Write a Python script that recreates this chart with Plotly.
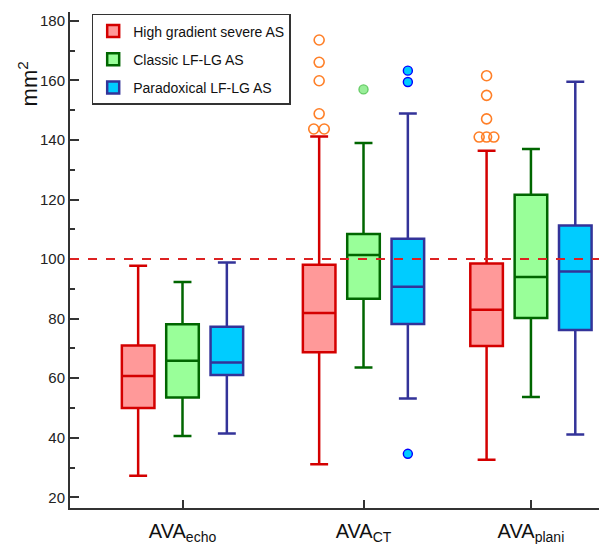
import plotly.graph_objects as go

# ---- data (mm^2) ----
groups = ["AVA<sub>echo</sub>", "AVA<sub>CT</sub>", "AVA<sub>plani</sub>"]
series = ["High gradient severe AS", "Classic LF-LG AS", "Paradoxical LF-LG AS"]

# per series: values for [echo, CT, plani]
hg_low = [27.2, 31.1, 32.6]
hg_q1 = [50.0, 68.7, 70.8]
hg_med = [60.7, 81.9, 83.0]
hg_q3 = [71.0, 98.1, 98.5]
hg_high = [97.8, 141.2, 136.4]

cl_low = [40.6, 63.6, 53.7]
cl_q1 = [53.5, 86.7, 80.2]
cl_med = [65.9, 101.4, 94.0]
cl_q3 = [78.1, 108.4, 121.6]
cl_high = [92.3, 139.0, 137.0]

pa_low = [41.4, 53.2, 41.1]
pa_q1 = [61.1, 78.2, 76.2]
pa_med = [65.3, 90.7, 95.8]
pa_q3 = [77.3, 106.8, 111.3]
pa_high = [98.9, 148.9, 159.6]

# outliers: (group index, value)
hg_out_group = [1, 1, 1, 1, 1, 1, 2, 2, 2, 2, 2, 2]
hg_out_vals = [173.6, 166.1, 159.9, 148.8, 143.7, 143.7, 161.6, 155.0, 147.1, 141.0, 141.0, 141.0]
cl_out_group = [1]
cl_out_vals = [157.0]
pa_out_group = [1, 1, 1]
pa_out_vals = [163.3, 159.5, 34.6]

threshold = 100

# ---- layout constants ----
GROUP_POS = [1.0, 2.0, 2.925]
OFFSET = 0.245
BOX_W = 0.18
hg_jitter = [0, 0, 0, 0, -0.03, 0.028, 0, 0, 0, -0.041, 0, 0.04]
cl_jitter = [0]
pa_jitter = [0, 0, 0]

styles = [
    dict(line="#d40000", fill="#ff9999", off=-OFFSET,
         omk=dict(symbol="circle-open", size=10, color="#ff7f27", line=dict(width=1.6, color="#ff7f27"))),
    dict(line="#006600", fill="#99ff99", off=0.0,
         omk=dict(symbol="circle", size=9, color="#99ee99", line=dict(width=1.4, color="#66cc66"))),
    dict(line="#333399", fill="#00ccff", off=OFFSET,
         omk=dict(symbol="circle", size=9, color="#00ccff", line=dict(width=1.4, color="#0000ff"))),
]

stats = [
    (hg_low, hg_q1, hg_med, hg_q3, hg_high),
    (cl_low, cl_q1, cl_med, cl_q3, cl_high),
    (pa_low, pa_q1, pa_med, pa_q3, pa_high),
]
outs = [
    (hg_out_group, hg_out_vals, hg_jitter),
    (cl_out_group, cl_out_vals, cl_jitter),
    (pa_out_group, pa_out_vals, pa_jitter),
]

fig = go.Figure()
for i, name in enumerate(series):
    lo, q1, md, q3, hi = stats[i]
    st = styles[i]
    xs = [p + st["off"] for p in GROUP_POS]
    fig.add_trace(go.Box(
        name=name, x=xs, lowerfence=lo, q1=q1, median=md, q3=q3, upperfence=hi,
        width=BOX_W, whiskerwidth=0.55, fillcolor=st["fill"],
        line=dict(color=st["line"], width=2.5), boxpoints=False,
        legendgroup=name, hoverinfo="skip",
    ))
for i, name in enumerate(series):
    g, v, j = outs[i]
    st = styles[i]
    fig.add_trace(go.Scatter(
        x=[GROUP_POS[gi] + st["off"] + jj for gi, jj in zip(g, j)], y=v,
        mode="markers", marker=st["omk"], showlegend=False, legendgroup=name,
        hoverinfo="skip",
    ))

fig.add_shape(type="line", xref="paper", x0=0, x1=1, yref="y", y0=threshold, y1=threshold,
              line=dict(color="#dd2222", width=2, dash="dash"), layer="above")

fig.add_annotation(text="mm<sup>2</sup>", textangle=-90, xref="paper", yref="paper",
                   x=-0.11, y=0.905, showarrow=False,
                   font=dict(family="Liberation Sans, Arial", size=22, color="#111"))

fig.update_layout(
    width=599, height=544,
    margin=dict(l=70, r=0, t=12, b=36),
    paper_bgcolor="white", plot_bgcolor="white",
    boxmode="overlay",
    font=dict(family="Liberation Sans, Arial", size=15, color="#222"),
    showlegend=True,
    legend=dict(x=0.041, y=0.996, xanchor="left", yanchor="top",
                bgcolor="white", bordercolor="#333", borderwidth=1.5,
                font=dict(size=14, color="#111"), tracegroupgap=7,
                itemwidth=30),
    xaxis=dict(range=[0.3785, 3.301], showgrid=False, zeroline=False,
               showline=True, linecolor="#333", linewidth=2,
               tickvals=GROUP_POS, ticktext=groups, ticks="inside", ticklen=8,
               tickwidth=1.5, tickcolor="#333", ticklabelstandoff=4,
               tickfont=dict(size=20, color="#111")),
    yaxis=dict(range=[16.4, 183], showgrid=False, zeroline=False,
               showline=True, linecolor="#333", linewidth=2,
               tick0=20, dtick=20, ticks="inside", ticklen=9, tickwidth=2, tickcolor="#333",
               minor=dict(dtick=10, tick0=10, ticks="inside", ticklen=5, tickwidth=1.5, tickcolor="#333", showgrid=False),
               tickfont=dict(size=15, color="#222")),
)

fig.write_html("out.html")
